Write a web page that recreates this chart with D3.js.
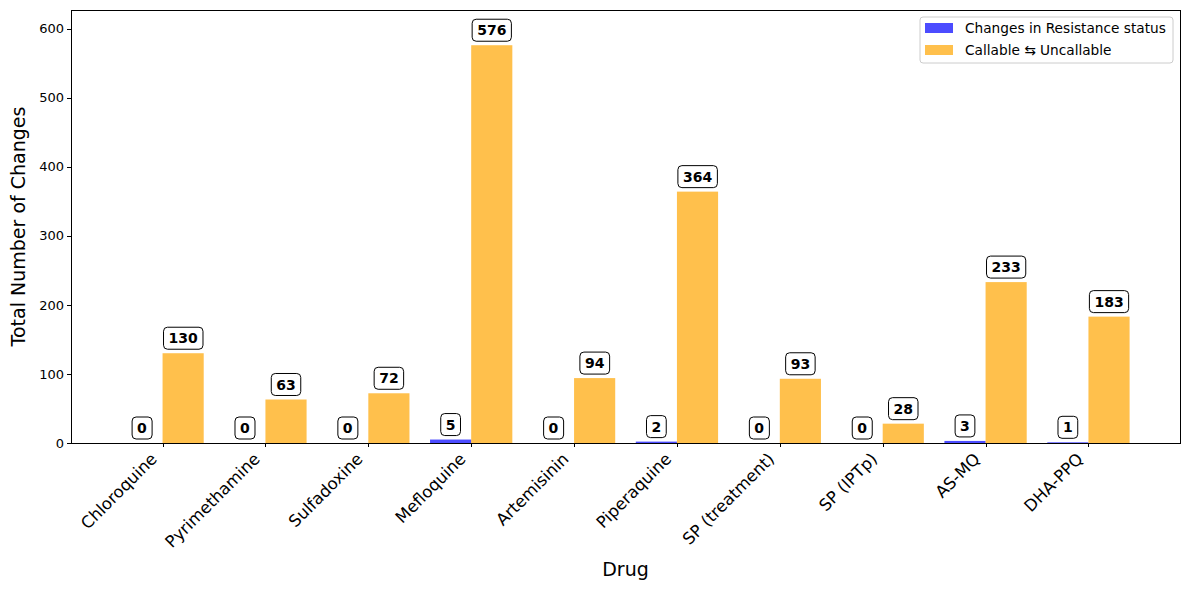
<!DOCTYPE html>
<html>
<head>
  <script src="https://d3js.org/d3.v7.min.js"></script>
  <style>
    body { margin: 0; background: #fff; }
    text { font-family: "DejaVu Sans", sans-serif; }
    .axis path, .axis line { stroke: #000; shape-rendering: crispEdges; }
  </style>
</head>
<body>
  <div id="chart"></div>
  <script>
    // data
    const drugs = ["Chloroquine", "Pyrimethamine", "Sulfadoxine", "Mefloquine", "Artemisinin",
                   "Piperaquine", "SP (treatment)", "SP (IPTp)", "AS-MQ", "DHA-PPQ"];
    const resistanceChanges = [0, 0, 0, 5, 0, 2, 0, 0, 3, 1];
    const callableChanges = [130, 63, 72, 576, 94, 364, 93, 28, 233, 183];
    const yTicks = [0, 100, 200, 300, 400, 500, 600];
    const seriesNames = ["Changes in Resistance status", "Callable \u21c6 Uncallable"];
    const seriesColors = ["rgba(0,0,255,0.7)", "rgba(255,165,0,0.7)"];

    const W = 1189, H = 590;
    const margin = { top: 10, right: 9, bottom: 147, left: 71 };
    const width = W - margin.left - margin.right;
    const height = H - margin.top - margin.bottom;
    const barW = 0.4;

    const svg = d3.select("#chart").append("svg")
      .attr("width", W).attr("height", H);
    const g = svg.append("g")
      .attr("transform", `translate(${margin.left},${margin.top})`);

    const x = d3.scaleLinear().domain([-0.89, drugs.length - 1 + 0.89]).range([0, width]);
    const y = d3.scaleLinear().domain([0, 627]).range([height, 0]);

    // bars
    const series = [resistanceChanges, callableChanges];
    series.forEach((vals, s) => {
      const off = s === 0 ? -barW : 0;
      g.selectAll(".bar" + s).data(vals).enter().append("rect")
        .attr("x", (d, i) => x(i + off))
        .attr("width", x(barW) - x(0))
        .attr("y", d => y(d))
        .attr("height", d => y(0) - y(d))
        .attr("fill", seriesColors[s]);
    });

    // value labels with rounded boxes
    series.forEach((vals, s) => {
      const off = s === 0 ? -barW / 2 : barW / 2;
      vals.forEach((d, i) => {
        const cx = x(i + off), cy = y(d) - 15;
        const lg = g.append("g").attr("transform", `translate(${cx},${cy})`);
        const t = lg.append("text")
          .attr("text-anchor", "middle").attr("dy", "0.36em")
          .attr("font-size", 14).attr("font-weight", "bold")
          .text(d);
        const bb = t.node().getBBox();
        lg.insert("rect", "text")
          .attr("x", bb.x - 5).attr("y", -11)
          .attr("width", bb.width + 10).attr("height", 22)
          .attr("rx", 4).attr("ry", 4)
          .attr("fill", "#fff").attr("stroke", "#000").attr("stroke-width", 1);
      });
    });

    // axes
    const xAxis = d3.axisBottom(x).tickValues(d3.range(drugs.length))
      .tickFormat(i => drugs[i]).tickSize(4).tickSizeOuter(0);
    const xg = g.append("g").attr("class", "axis")
      .attr("transform", `translate(0,${height})`).call(xAxis);
    xg.selectAll("text")
      .attr("font-size", 16.5).attr("fill", "#000")
      .attr("text-anchor", "end")
      .attr("dy", null).attr("y", 0)
      .attr("transform", "translate(-5,17) rotate(-45)");

    const yAxis = d3.axisLeft(y).tickValues(yTicks).tickSize(4).tickSizeOuter(0);
    const yg = g.append("g").attr("class", "axis").call(yAxis);
    yg.selectAll("text").attr("font-size", 13).attr("fill", "#000");

    // frame
    g.append("rect").attr("width", width).attr("height", height)
      .attr("fill", "none").attr("stroke", "#000").attr("stroke-width", 1)
      .attr("shape-rendering", "crispEdges");

    // axis titles
    svg.append("text").attr("x", margin.left + width / 2).attr("y", 576)
      .attr("text-anchor", "middle").attr("font-size", 19).text("Drug");
    svg.append("text")
      .attr("transform", `translate(25,${margin.top + height / 2}) rotate(-90)`)
      .attr("text-anchor", "middle").attr("font-size", 19).text("Total Number of Changes");

    // legend
    const leg = svg.append("g").attr("transform", "translate(920,17)");
    leg.append("rect").attr("width", 253).attr("height", 46).attr("rx", 3)
      .attr("fill", "#fff").attr("stroke", "#ccc");
    seriesNames.forEach((n, i) => {
      leg.append("rect").attr("x", 5).attr("y", 6 + i * 22).attr("width", 28).attr("height", 10)
        .attr("fill", seriesColors[i]);
      leg.append("text").attr("x", 45).attr("y", 11 + i * 22).attr("dy", "0.36em")
        .attr("font-size", 13.7).text(n);
    });
  </script>
</body>
</html>
